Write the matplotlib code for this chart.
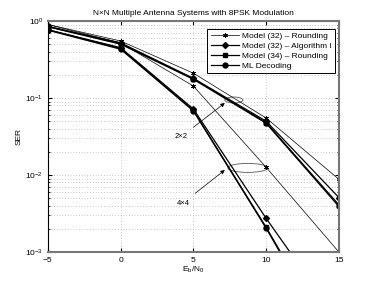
import numpy as np
import matplotlib
matplotlib.use("Agg")
import matplotlib.pyplot as plt
from matplotlib.patches import Ellipse

plt.rcParams['font.family'] = ['Liberation Sans', 'DejaVu Sans']
plt.rcParams['mathtext.fontset'] = 'custom'
plt.rcParams['mathtext.rm'] = 'Liberation Sans'
plt.rcParams['mathtext.it'] = 'Liberation Sans'

# Eb/N0 in dB
snr = [-5, 0, 5, 10, 15]

# 2x2 system
ser_2x2_m32_round = [0.90, 0.55, 0.21, 0.055, 0.0088]
ser_2x2_m32_alg1 = [0.85, 0.52, 0.18, 0.050, 0.0051]
ser_2x2_m34_round = [0.85, 0.51, 0.178, 0.048, 0.0041]
ser_2x2_ml = [0.84, 0.50, 0.175, 0.047, 0.0039]

# 4x4 system
ser_4x4_m32_round = [0.90, 0.52, 0.143, 0.0126, 0.001]
ser_4x4_m32_alg1 = [0.77, 0.45, 0.072, 0.00274, 1.26e-4]
ser_4x4_m34_round = [0.77, 0.44, 0.069, 0.0021, 5e-5]
ser_4x4_ml = [0.76, 0.43, 0.068, 0.00204, 4.6e-5]

labels = ['Model (32) \u2013 Rounding', 'Model (32) \u2013 Algorithm I',
          'Model (34) \u2013 Rounding', 'ML Decoding']

fig = plt.figure(figsize=(3.74, 2.84), dpi=100)
ax = fig.add_axes([0.128, 0.1127, 0.778, 0.8134])

star = (6, 2, 0)
styles = [
    dict(marker=star, ms=3.5, lw=0.5, mew=0.5),
    dict(marker='D', ms=3.0, lw=0.9),
    dict(marker='s', ms=2.8, lw=0.9),
    dict(marker='o', ms=3.5, lw=0.9),
]

sets_2x2 = [ser_2x2_m32_round, ser_2x2_m32_alg1, ser_2x2_m34_round, ser_2x2_ml]
sets_4x4 = [ser_4x4_m32_round, ser_4x4_m32_alg1, ser_4x4_m34_round, ser_4x4_ml]

for ser, st, lab in zip(sets_2x2, styles, labels):
    ax.semilogy(snr, ser, color='k', label=lab, **st)
for ser, st in zip(sets_4x4, styles):
    ax.semilogy(snr, ser, color='k', **st)

ax.set_xlim(-5, 15)
ax.set_ylim(1e-3, 1)
ax.set_xticks([-5, 0, 5, 10, 15])
ax.grid(True, which='major', ls=(0, (1, 3)), color='#999999', lw=0.5)
ax.grid(True, which='minor', axis='y', ls=(0, (1, 3)), color='#999999', lw=0.5)
ax.tick_params(which='both', direction='in', labelsize=6, length=3,
               top=True, right=True)
ax.tick_params(which='minor', length=1.5)

for side in ['top', 'bottom', 'right']:
    ax.spines[side].set_color('#777777')
    ax.spines[side].set_linewidth(1.5)
ax.spines['left'].set_linewidth(0.8)

ax.set_title('N\u00d7N Multiple Antenna Systems with 8PSK Modulation',
             fontsize=6, pad=4)
ax.set_xlabel('E$_b$/N$_0$', fontsize=6, labelpad=1)
ax.set_ylabel('SER', fontsize=6, labelpad=2)

leg = ax.legend(loc='upper right', bbox_to_anchor=(1.0, 0.985), fontsize=6,
                handlelength=3.4, labelspacing=0.25, borderpad=0.4,
                handletextpad=0.3, fancybox=False, edgecolor='k',
                framealpha=1)
leg.get_frame().set_linewidth(0.7)

# ellipses and arrows marking the two groups
ax.add_patch(Ellipse((0.639, 0.658), 0.062, 0.026, transform=ax.transAxes,
                     fill=False, ec='#555555', lw=0.6))
ax.add_patch(Ellipse((0.687, 0.364), 0.137, 0.039, transform=ax.transAxes,
                     fill=False, ec='#555555', lw=0.6))

ax.annotate('2\u00d72', xy=(0.608, 0.645), xycoords='axes fraction',
            xytext=(0.457, 0.498), textcoords='axes fraction', fontsize=5.5,
            ha='center', va='center',
            arrowprops=dict(arrowstyle='-|>', color='k', lw=0.5,
                            mutation_scale=6, shrinkA=4, shrinkB=0))
ax.annotate('4\u00d74', xy=(0.608, 0.355), xycoords='axes fraction',
            xytext=(0.464, 0.212), textcoords='axes fraction', fontsize=5.5,
            ha='center', va='center',
            arrowprops=dict(arrowstyle='-|>', color='k', lw=0.5,
                            mutation_scale=6, shrinkA=4, shrinkB=0))

fig.savefig('out.png', dpi=100)
